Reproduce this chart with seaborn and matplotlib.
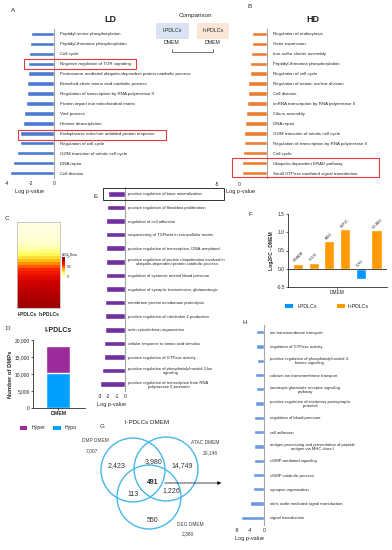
import numpy as np
import pandas as pd
import matplotlib
matplotlib.use('Agg')
import matplotlib.pyplot as plt
import seaborn as sns
from matplotlib.colors import LinearSegmentedColormap
from matplotlib.patches import Rectangle, Circle
from matplotlib.ticker import FuncFormatter

# ---- data ----
# A: LD GO terms (log p-value)
ld_terms = ['Peptidyl-serine phosphorylation', 'Peptidyl-threonine phosphorylation', 'Cell cycle',
            'Negative regulation of TOR signaling',
            'Proteasome-mediated ubiquitin-dependent protein catabolic process',
            'Branched-chain amino acid catabolic process',
            'Regulation of transcription by RNA polymerase II', 'Protein import into mitochondrial matrix',
            'Viral process', 'Histone deacetylation', 'Endoplasmic reticulum unfolded protein response',
            'Regulation of cell cycle', 'G2/M transition of mitotic cell cycle', 'DNA repair', 'Cell division']
ld_logp = [-2.0, -2.1, -2.15, -2.2, -2.25, -2.3, -2.35, -2.45, -2.6, -2.7, -2.9, -2.9, -3.15, -3.55, -3.75]

# B: HD GO terms
hd_terms = ['Regulation of endocytosis', 'Gene expression', 'Iron-sulfur cluster assembly',
            'Peptidyl-threonine phosphorylation', 'Regulation of cell cycle',
            'Regulation of mitotic nuclear division', 'Cell division',
            'snRNA transcription by RNA polymerase II', 'Cilium assembly', 'DNA repair',
            'G2/M transition of mitotic cell cycle', 'Regulation of transcription by RNA polymerase II',
            'Cell cycle', 'Ubiquitin-dependent ERAD pathway', 'Small GTPase mediated signal transduction']
hd_logp = [-1.5, -1.5, -1.6, -1.7, -1.7, -1.9, -1.9, -2.0, -2.1, -2.2, -2.3, -2.3, -2.4, -2.5, -2.5]

# C: average beta values (rows sorted)
beta_l = [0.02, 0.02, 0.02, 0.03, 0.03, 0.04, 0.05, 0.07, 0.1, 0.15, 0.21, 0.28, 0.36, 0.44,
          0.52, 0.59, 0.65, 0.7, 0.74, 0.78, 0.81, 0.84, 0.87, 0.9, 0.92, 0.94, 0.96, 0.98]
beta_h = [0.02, 0.02, 0.02, 0.03, 0.03, 0.04, 0.05, 0.07, 0.11, 0.16, 0.22, 0.29, 0.37, 0.45,
          0.53, 0.6, 0.66, 0.71, 0.75, 0.79, 0.82, 0.85, 0.87, 0.9, 0.92, 0.94, 0.96, 0.98]

# D: number of DMPs
dmp_hyper = 8000
dmp_hypo = 10300

# E
e_terms = ['positive regulation of bone mineralization', 'positive regulation of fibroblast proliferation',
           'regulation of cell adhesion', 'sequestering of TGFbeta in extracellular matrix',
           'positive regulation of transcription, DNA-templated',
           'positive regulation of protein ubiquitination involved in\nubiquitin-dependent protein catabolic process',
           'regulation of systemic arterial blood pressure',
           'regulation of synaptic transmission, glutamatergic',
           'membrane protein ectodomain proteolysis', 'positive regulation of interleukin-2 production',
           'actin cytoskeleton organization', 'cellular response to amino acid stimulus',
           'positive regulation of GTPase activity',
           'positive regulation of phosphatidylinositol 3-kin\nsignaling',
           'positive regulation of transcription from RNA\npolymerase II promoter']
e_logp = [-2.05, -2.15, -2.3, -2.3, -2.3, -2.3, -2.3, -2.3, -2.4, -2.4, -2.4, -2.55, -2.55, -2.75, -3.0]

# F
f_genes = ['SEMA3B', 'CD276', 'FBN1', 'MEF2C', 'CDK1', 'SCUBE3']
f_log2fc = [0.13, 0.15, 0.75, 1.08, -0.27, 1.05]
f_group = ['h-PDLCs', 'h-PDLCs', 'h-PDLCs', 'h-PDLCs', 'l-PDLCs', 'h-PDLCs']

# G: venn counts
venn_names = ['DMP DMEM', 'ATAC DMEM', 'DEG DMEM']
venn_totals = ['7,007', '20,146', '2,380']
venn_only = ['2,423', '14,749', '550']
venn_pairs = ['3,980', '113', '1,226']   # DMP&ATAC, DMP&DEG, ATAC&DEG
venn_all = '491'

# H
h_terms = ['ion transmembrane transport', 'regulation of GTPase activity',
           'positive regulation of phosphatidylinositol 3-\nkinase signaling',
           'calcium ion transmembrane transport',
           'ionotropic glutamate receptor signaling\npathway',
           'positive regulation of excitatory postsynaptic\npotential',
           'regulation of blood pressure', 'cell adhesion',
           'antigen processing and presentation of peptide\nantigen via MHC class I',
           'cGMP-mediated signaling', 'cGMP catabolic process', 'synapse organization',
           'nitric oxide mediated signal transduction', 'signal transduction']
h_logp = [-2.4, -2.3, -2.1, -2.7, -2.5, -2.8, -3.0, -3.1, -3.1, -3.1, -3.4, -3.4, -4.2, -6.7]

# ---- style ----
sns.set_theme(style='white')
plt.rcParams['font.family'] = ['Liberation Sans', 'DejaVu Sans']

W, H = 392, 550
fig = plt.figure(figsize=(W / 100, H / 100), dpi=100)
fig.patch.set_facecolor('white')


def box(x0, y0, x1, y1):
    return fig.add_axes([x0 / W, 1 - y1 / H, (x1 - x0) / W, (y1 - y0) / H])


BLUE = '#4a7bd0'
ORANGE = '#ed7d31'
PURPLE = '#7030a0'
HBLUE = '#6a9ae0'
GREY = '#a6a6a6'


def go_panel(ax, terms, vals, color, width, xlim, ticks, fs=3.2):
    df = pd.DataFrame({'term': terms, 'logp': vals})
    sns.barplot(data=df, x='logp', y='term', orient='h', color=color, width=width,
                saturation=1, ax=ax)
    ax.set_xlim(*xlim)
    ax.set_ylim(len(terms) - 0.5, -0.5)
    for s in ['top', 'left', 'bottom']:
        ax.spines[s].set_visible(False)
    ax.spines['right'].set_color(GREY)
    ax.spines['right'].set_linewidth(0.8)
    ax.yaxis.tick_right()
    ax.tick_params(axis='y', length=0, pad=4.2, labelsize=fs)
    for lbl in ax.get_yticklabels():
        lbl.set_multialignment('center')
        lbl.set_linespacing(1.0)
    ax.set_ylabel('')
    ax.set_xticks(ticks)
    ax.set_xticklabels([str(t) for t in ticks])
    ax.tick_params(axis='x', length=0, pad=2.5, labelsize=3.6)
    ax.set_xlabel('Log p-value', fontsize=4, labelpad=1.5)
    ax.patch.set_alpha(0)


# A
axA = box(4, 29, 54, 178)
go_panel(axA, ld_terms, ld_logp, BLUE, 0.45, (-4.3, 0), [-4, -2, 0])

# B (its tick labels sit left of the bars in the original, own small scale)
axB = box(217, 29, 267, 178)
go_panel(axB, hd_terms, hd_logp, ORANGE, 0.45, (-5, 0), [])
axB.set_xlabel('')
axBt = box(217, 178, 239, 179)
axBt.set_xlim(-5, 0)
axBt.set_yticks([])
axBt.set_xticks([-5, 0])
axBt.set_xticklabels(['-5', '0'])
axBt.tick_params(axis='x', length=0, pad=2.5, labelsize=3.6)
for s in axBt.spines.values():
    s.set_visible(False)
axBt.patch.set_alpha(0)
axBt.set_xlabel('Log p-value', fontsize=4)
axBt.xaxis.set_label_coords(1.05, -10)

# C heatmap
cmap = LinearSegmentedColormap.from_list(
    'beta', ['#fffff0', '#ffff60', '#ffb000', '#ff2000', '#d00000', '#960000'])
axC = box(17, 222, 60, 308)
caxC = box(62, 257, 65, 277)
hm = pd.DataFrame({'l-PDLCs': beta_l, 'h-PDLCs': beta_h})
sns.heatmap(hm, cmap=cmap, vmin=0, vmax=1, ax=axC, cbar_ax=caxC, yticklabels=False,
            xticklabels=True)
axC.set_xticks([0.5, 1.5])
axC.set_xticklabels(list(hm.columns), rotation=0, fontweight='bold')
axC.tick_params(axis='x', length=0, labelsize=3.5, pad=3)
for s in axC.spines.values():
    s.set_visible(True)
    s.set_color('#bfbfbf')
    s.set_linewidth(0.6)
caxC.set_yticks([0, 0.5, 1])
caxC.set_yticklabels(['0', '0.5', '1'])
caxC.tick_params(length=0, labelsize=2.4, pad=1)

# D stacked bar
axD = box(33, 340, 85, 408)
sns.barplot(x=['DMEM'], y=[dmp_hyper + dmp_hypo], color='#9b2a9b', saturation=1,
            width=0.8, ax=axD)
sns.barplot(x=['DMEM'], y=[dmp_hypo], color='#00a0ff', saturation=1, width=0.8, ax=axD)
axD.set_ylim(0, 20000)
axD.set_xlim(-0.85, 0.9)
axD.set_yticks([0, 5000, 10000, 15000, 20000])
axD.yaxis.set_major_formatter(FuncFormatter(lambda v, p: f'{int(v):,}'))
axD.tick_params(axis='y', length=1.5, width=0.5, labelsize=3.5, pad=0.8, left=True)
axD.tick_params(axis='x', length=1.5, width=0.5, labelsize=3.8, pad=1, bottom=True)
for lbl in axD.get_xticklabels():
    lbl.set_fontweight('bold')
axD.set_ylabel('Number of DMPs', fontsize=4.2, fontweight='bold', labelpad=1.5)
for s in ['top', 'right']:
    axD.spines[s].set_visible(False)
for s in ['left', 'bottom']:
    axD.spines[s].set_color('black')
    axD.spines[s].set_linewidth(0.5)
axD.patch.set_alpha(0)

# E
axE = box(98, 187, 125, 391)
go_panel(axE, e_terms, e_logp, PURPLE, 0.4, (-3.25, 0), [-3, -2, -1, 0], fs=3.0)
axE.tick_params(axis='y', pad=2.5)

# F
axF = box(288, 214, 387, 287)
fcol = ['#ff9a00' if g == 'h-PDLCs' else '#0096ff' for g in f_group]
sns.barplot(x=f_genes, y=f_log2fc, hue=f_genes, palette=fcol, legend=False, width=0.64,
            saturation=1, ax=axF)
axF.axhline(0, color='black', lw=0.5)
axF.set_ylim(-0.5, 1.5)
axF.set_xlim(-0.64, 5.67)
axF.set_yticks([-0.5, 0, 0.5, 1.0, 1.5])
axF.set_yticklabels(['-0.5', '0.0', '0.5', '1.0', '1.5'])
axF.set_xticks([2.5])
axF.set_xticklabels(['DMEM'])
axF.tick_params(axis='both', length=1.5, width=0.5, labelsize=3.5, pad=0.8, left=True, bottom=True)
axF.set_ylabel('Log2FC - DMEM', fontsize=3.6, fontweight='bold', labelpad=1.5)
for s in ['top', 'right']:
    axF.spines[s].set_visible(False)
for s in ['left', 'bottom']:
    axF.spines[s].set_color('black')
    axF.spines[s].set_linewidth(0.5)
for i, (g, v) in enumerate(zip(f_genes, f_log2fc)):
    axF.text(i - 0.15, max(v, 0) + 0.03, g, rotation=45, rotation_mode='anchor',
             ha='left', va='bottom', fontsize=2.3)
axF.patch.set_alpha(0)

# H
axH = box(235, 325, 264, 525)
go_panel(axH, h_terms, h_logp, HBLUE, 0.3, (-8.6, 0), [-8, -4, 0], fs=3.0)
axH.tick_params(axis='y', pad=4.5)

# ---- overlay: letters, boxes, venn ----
ov = fig.add_axes([0, 0, 1, 1])
ov.set_xlim(0, W)
ov.set_ylim(H, 0)
ov.axis('off')

for letter, (x, y) in {'A': (13, 10), 'B': (250, 7), 'C': (7, 218), 'D': (8, 329), 'E': (96, 196),
                       'F': (250, 214), 'G': (102, 427), 'H': (245, 322)}.items():
    ov.text(x, y, letter, fontsize=4.5, ha='center', va='center')

ov.text(110, 19, 'LD', fontsize=6.5, fontweight='bold', ha='center', va='center')
ov.text(313, 20, 'HD', fontsize=6.5, fontweight='bold', ha='center', va='center')

# comparison
ov.text(195, 16, 'Comparison', fontsize=4.5, ha='center', va='center')
ov.add_patch(Rectangle((156, 23), 33, 16, color='#dae3f3', lw=0))
ov.add_patch(Rectangle((197, 23), 32, 16, color='#fbe5d6', lw=0))
ov.text(172, 31, 'l-PDLCs', fontsize=3.8, ha='center', va='center')
ov.text(213, 31, 'h-PDLCs', fontsize=3.8, ha='center', va='center')
ov.text(172, 43, 'DMEM', fontsize=3.8, ha='center', va='center')
ov.text(213, 43, 'DMEM', fontsize=3.8, ha='center', va='center')
ov.plot([172, 172, 213, 213], [49, 52, 52, 49], color='#404040', lw=0.5)

# red highlight boxes
red = '#e8383d'
ov.add_patch(Rectangle((24, 59), 112, 10, fill=False, ec=red, lw=0.8))
ov.add_patch(Rectangle((18, 130), 148, 10, fill=False, ec=red, lw=0.8))
ov.add_patch(Rectangle((232, 158), 147, 19, fill=False, ec=red, lw=0.8))
ov.add_patch(Rectangle((103, 188), 121, 12, fill=False, ec='#303030', lw=0.7))

# C colorbar title, D title/legend
ov.text(62, 254, 'AVG_Beta', fontsize=2.3, ha='left', va='center')
ov.text(58, 331, 'l-PDLCs', fontsize=5, fontweight='bold', ha='center', va='center')
ov.add_patch(Rectangle((20, 426), 7, 4, color='#9b2a9b', lw=0))
ov.text(32, 428, 'Hyper', fontsize=3.8, ha='left', va='center')
ov.add_patch(Rectangle((53, 426), 8, 4, color='#00a0ff', lw=0))
ov.text(65, 428, 'Hypo', fontsize=3.8, ha='left', va='center')

# F legend
ov.add_patch(Rectangle((285, 304), 8, 4, color='#0096ff', lw=0))
ov.text(298, 306, 'l-PDLCs', fontsize=3.8, ha='left', va='center')
ov.add_patch(Rectangle((337, 304), 8, 4, color='#ff9a00', lw=0))
ov.text(348, 306, 'h-PDLCs', fontsize=3.8, ha='left', va='center')

# G venn
ov.text(147, 423, 'l-PDLCs DMEM', fontsize=4.5, ha='center', va='center')
vc = '#45b8e8'
for cx, cy in [(133, 470), (166, 469), (149, 497)]:
    ov.add_patch(Circle((cx, cy), 32, fill=False, ec=vc, lw=1.0))
for (x, y), s in zip([(117, 466), (182, 466), (153, 521)], venn_only):
    ov.text(x, y, s, fontsize=5, ha='center', va='center', color='#303030')
for (x, y), s in zip([(154, 462), (133, 494), (171, 491)], venn_pairs):
    ov.text(x, y, s, fontsize=5, ha='center', va='center', color='#303030')
ov.text(153, 483, venn_all, fontsize=5, fontweight='bold', ha='center', va='center')
for (x, y), name, tot in zip([(95, 441), (205, 443), (190, 524)], venn_names, venn_totals):
    ov.text(x, y, name, fontsize=3.5, ha='center', va='center', color='#404040')
    ov.text(x - 3 if name == 'DMP DMEM' else x + 5 if name == 'ATAC DMEM' else x - 2, y + 10,
            tot, fontsize=3.5, ha='center', va='center', color='#404040')
ov.annotate('', xy=(224, 483), xytext=(162, 483),
            arrowprops=dict(arrowstyle='-|>', color='black', lw=0.5, mutation_scale=5))

fig.savefig('out.png', dpi=100)
